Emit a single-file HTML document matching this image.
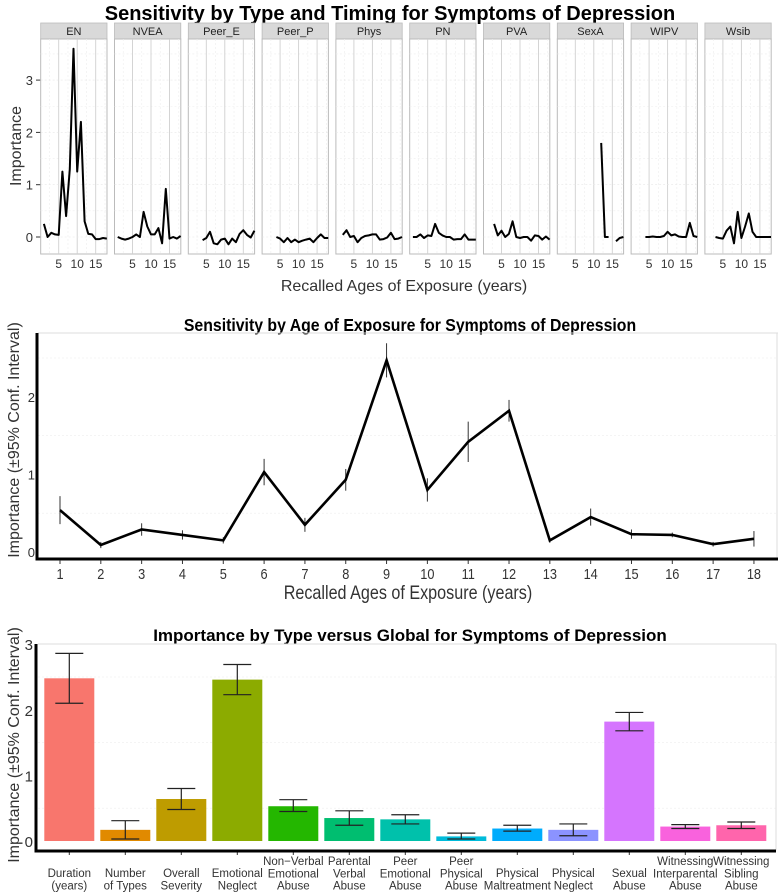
<!DOCTYPE html>
<html><head><meta charset="utf-8"><style>
html,body{margin:0;padding:0;background:#fff;}
svg{display:block;font-family:"Liberation Sans",sans-serif;}
</style></head><body>
<svg id="c" width="778" height="895" viewBox="0 0 778 895" xmlns="http://www.w3.org/2000/svg">
<text x="390" y="20" text-anchor="middle" font-size="20" font-weight="bold">Sensitivity by Type and Timing for Symptoms of Depression</text>
<text x="404" y="291" text-anchor="middle" font-size="16" fill="#333">Recalled Ages of Exposure (years)</text>
<text transform="translate(21,146) rotate(-90)" text-anchor="middle" font-size="16" fill="#333">Importance</text>
<text x="410" y="331" text-anchor="middle" font-size="18" font-weight="bold" transform="translate(410,0) scale(0.88,1) translate(-410,0)">Sensitivity by Age of Exposure for Symptoms of Depression</text>
<text x="408" y="599" text-anchor="middle" font-size="19" fill="#333" transform="translate(408,0) scale(0.85,1) translate(-408,0)">Recalled Ages of Exposure (years)</text>
<text transform="translate(19,440) rotate(-90)" text-anchor="middle" font-size="16" fill="#333">Importance (±95% Conf. Interval)</text>
<text x="410" y="641" text-anchor="middle" font-size="17" font-weight="bold">Importance by Type versus Global for Symptoms of Depression</text>
<text transform="translate(19,745) rotate(-90)" text-anchor="middle" font-size="16" fill="#333">Importance (±95% Conf. Interval)</text>
<g id="top"></g><g id="mid"></g><g id="bot"></g>
</svg>
<script>
// ---- top facets data (ages 1..18, null = missing)
const facetNames = ["EN","NVEA","Peer_E","Peer_P","Phys","PN","PVA","SexA","WIPV","Wsib"];
const ages = [1,2,3,4,5,6,7,8,9,10,11,12,13,14,15,16,17,18];
const sEN = [0.25,0,0.08,0.05,0.04,1.25,0.4,1.3,3.6,1.25,2.2,0.3,0.06,0.05,-0.04,-0.04,-0.02,-0.03];
const sNVEA = [0,-0.03,-0.05,-0.03,0,0.05,0,0.48,0.2,0.05,0.05,0.17,-0.12,0.92,-0.03,0,-0.03,0.02];
const sPeerE = [null,null,null,-0.06,-0.02,0.1,-0.12,-0.14,-0.05,-0.03,-0.14,-0.03,-0.1,0.06,0.13,0.04,-0.01,0.12];
const sPeerP = [null,null,null,0,-0.03,-0.1,-0.02,-0.1,-0.05,-0.1,-0.07,-0.05,-0.03,-0.1,-0.02,0.05,-0.02,-0.02];
const sPhys = [null,0.04,0.13,0,0.02,-0.1,-0.02,0.02,0.03,0.05,0.05,-0.05,-0.04,-0.01,0.08,-0.04,-0.03,0];
const sPN = [0,0,0.05,-0.02,0.03,0.02,0.25,0.08,0.03,0,0,-0.05,-0.04,-0.04,0.05,-0.05,-0.05,-0.05];
const sPVA = [null,null,0.25,0.03,0.12,0,0.06,0.3,0,-0.02,0,0,-0.07,0.03,0.02,-0.05,0.01,-0.05];
const sSexA = [null,null,null,null,null,null,null,null,null,null,null,1.8,0,0,null,-0.08,-0.02,0];
const sWIPV = [null,null,null,0,0,0.01,0,0,0.02,0.1,0.03,0.05,0.01,0,0,0.27,0.02,0];
const sWsib = [null,null,0,-0.02,-0.03,0.12,0.2,-0.12,0.48,-0.02,0.2,0.45,0.1,0,0,0,0,0];
const facetSeries = [sEN,sNVEA,sPeerE,sPeerP,sPhys,sPN,sPVA,sSexA,sWIPV,sWsib];
const topYTicks = [0,1,2,3];
const topXTicks = [5,10,15];
// ---- middle data
const midAges = [1,2,3,4,5,6,7,8,9,10,11,12,13,14,15,16,17,18];
const midVals = [0.54,0.09,0.29,0.22,0.15,1.03,0.35,0.93,2.47,0.80,1.42,1.82,0.15,0.45,0.23,0.22,0.10,0.17];
const midCI = [0.18,0.04,0.08,0.06,0.04,0.17,0.09,0.14,0.22,0.15,0.26,0.14,0.03,0.11,0.06,0.03,0.03,0.10];
const midYTicks = [0,1,2];
// ---- bottom data
const barLabels = [["Duration","(years)"],["Number","of Types"],["Overall","Severity"],["Emotional","Neglect"],["Non−Verbal","Emotional","Abuse"],["Parental","Verbal","Abuse"],["Peer","Emotional","Abuse"],["Peer","Physical","Abuse"],["Physical","Maltreatment"],["Physical","Neglect"],["Sexual","Abuse"],["Witnessing","Interparental","Abuse"],["Witnessing","Sibling","Abuse"]];
const barVals = [2.48,0.17,0.64,2.46,0.53,0.35,0.33,0.07,0.19,0.17,1.82,0.22,0.24];
const barLo = [2.10,0.03,0.48,2.23,0.45,0.24,0.26,0.03,0.15,0.08,1.68,0.19,0.19];
const barHi = [2.86,0.31,0.80,2.69,0.63,0.46,0.40,0.12,0.24,0.26,1.96,0.25,0.29];
const barColors = ["#F8766D","#E18A00","#BE9C00","#8CAB00","#24B700","#00BE70","#00C1AB","#00BBDA","#00ACFC","#8B93FF","#D575FE","#F962DD","#FF65AC"];
const botYTicks = [0,1,2,3];

const NS="http://www.w3.org/2000/svg";
function mk(parent,tag,attrs,txt){const e=document.createElementNS(NS,tag);for(const k in attrs)e.setAttribute(k,attrs[k]);if(txt!==undefined)e.textContent=txt;parent.appendChild(e);return e;}

// ===== TOP =====
(function(){
  const g=document.getElementById('top');
  const left0=40.7, pw=66.3, gap=7.5, stripTop=23, stripBot=39, plotBot=254;
  const y=v=>237-v*52.3;
  topYTicks.forEach(t=>{
    const tl=mk(g,'text',{x:33,y:y(t)+5,'text-anchor':'end','font-size':13,fill:'#333'},String(t));
    
    
    const tk=mk(g,'line',{x1:36,x2:40.7,y1:y(t),y2:y(t),stroke:'#333','stroke-width':1});
    
    
  });
  facetNames.forEach((nm,i)=>{
    const L=left0+i*(pw+gap);
    const x=a=>L+3.2+(a-1)*3.7;
    const pg=mk(g,'g',{});
    
    
    mk(pg,'rect',{x:L,y:stripTop,width:pw,height:stripBot-stripTop,fill:'#d9d9d9',stroke:'#bbb','stroke-width':0.8});
    const st=mk(pg,'text',{x:L+pw/2,y:35,'text-anchor':'middle','font-size':11,fill:'#222'},nm);
    
    
    mk(pg,'rect',{x:L,y:stripBot,width:pw,height:plotBot-stripBot,fill:'#fff',stroke:'#bbb','stroke-width':1});
    [2.5,7.5,12.5,17.5].forEach(a=>mk(pg,'line',{x1:x(a),x2:x(a),y1:stripBot,y2:plotBot,stroke:'#eee','stroke-width':0.6,'stroke-dasharray':'2,2'}));
    [0.5,1.5,2.5,3.5].forEach(v=>mk(pg,'line',{x1:L,x2:L+pw,y1:y(v),y2:y(v),stroke:'#eee','stroke-width':0.6,'stroke-dasharray':'2,2'}));
    topXTicks.forEach(a=>mk(pg,'line',{x1:x(a),x2:x(a),y1:stripBot,y2:plotBot,stroke:'#d0d0d0','stroke-width':0.9}));
    topYTicks.forEach(v=>mk(pg,'line',{x1:L,x2:L+pw,y1:y(v),y2:y(v),stroke:'#e8e8e8','stroke-width':0.6,'stroke-dasharray':'2,2'}));
    topXTicks.forEach(a=>{
      const tl=mk(pg,'text',{x:x(a),y:268,'text-anchor':'middle','font-size':12,fill:'#333'},String(a));
      
      
    });
    const s=facetSeries[i]; let d='', pen=false;
    ages.forEach((a,k)=>{const v=s[k]; if(v===null){pen=false;return;} d+=(pen?'L':'M')+x(a).toFixed(1)+','+y(v).toFixed(1); pen=true;});
    const p=mk(pg,'path',{d:d,fill:'none',stroke:'#000','stroke-width':2,'stroke-linejoin':'round'});
    
    
  });
})();

// ===== MIDDLE =====
(function(){
  const g=document.getElementById('mid');
  const x=a=>60+(a-1)*40.82;
  const y=v=>552-v*77.6;
  [0.5,1.5,2.5].forEach(v=>mk(g,'line',{x1:38,x2:778,y1:y(v),y2:y(v),stroke:'#eee','stroke-width':0.6,'stroke-dasharray':'2,2'}));
  mk(g,'line',{x1:38,x2:778,y1:333,y2:333,stroke:'#ddd','stroke-width':1});
  mk(g,'line',{x1:777,x2:777,y1:333,y2:559,stroke:'#ddd','stroke-width':1});
  const ax=mk(g,'path',{d:'M37,333L37,559L778,559',fill:'none',stroke:'#000','stroke-width':3});
  
  
  midYTicks.forEach(t=>{
    const tl=mk(g,'text',{x:35,y:y(t)+5,'text-anchor':'end','font-size':13,fill:'#333'},String(t));
    
    
  });
  midAges.forEach(a=>{
    mk(g,'line',{x1:x(a),x2:x(a),y1:560,y2:564,stroke:'#333','stroke-width':1});
    const tl=mk(g,'text',{x:x(a),y:579,'text-anchor':'middle','font-size':15,fill:'#333',transform:`translate(${x(a)},0) scale(0.85,1) translate(${-x(a)},0)`},String(a));
    
    
  });
  midAges.forEach((a,k)=>{
    const e=mk(g,'line',{x1:x(a),x2:x(a),y1:y(midVals[k]-midCI[k]),y2:y(midVals[k]+midCI[k]),stroke:'#333','stroke-width':1});
    
    
  });
  const d=midAges.map((a,k)=>(k?'L':'M')+x(a).toFixed(1)+','+y(midVals[k]).toFixed(1)).join('');
  const p=mk(g,'path',{d:d,fill:'none',stroke:'#000','stroke-width':2.6,'stroke-linejoin':'miter'});
  
  
})();

// ===== BOTTOM =====
(function(){
  const g=document.getElementById('bot');
  const x=i=>69.3+i*56;
  const y=v=>841-v*65.6;
  const bw=50;
  [0.5,1.5,2.5].forEach(v=>mk(g,'line',{x1:38,x2:776,y1:y(v),y2:y(v),stroke:'#eee','stroke-width':0.6,'stroke-dasharray':'2,2'}));
  mk(g,'line',{x1:38,x2:776,y1:644,y2:644,stroke:'#ddd','stroke-width':1});
  mk(g,'line',{x1:776,x2:776,y1:644,y2:850,stroke:'#ddd','stroke-width':1});
  botYTicks.forEach(t=>{
    const tl=mk(g,'text',{x:33,y:y(t)+6,'text-anchor':'end','font-size':15,fill:'#333'},String(t));
    
    
  });
  barVals.forEach((v,i)=>{
    const r=mk(g,'rect',{x:x(i)-bw/2,y:y(v),width:bw,height:y(0)-y(v),fill:barColors[i]});
    
    
    const eb=mk(g,'path',{d:`M${x(i)-14},${y(barHi[i])}H${x(i)+14}M${x(i)},${y(barHi[i])}V${y(barLo[i])}M${x(i)-14},${y(barLo[i])}H${x(i)+14}`,fill:'none',stroke:'#222','stroke-width':1.2});
    
    
    mk(g,'line',{x1:x(i),x2:x(i),y1:851,y2:855,stroke:'#333','stroke-width':1});
    const lines=barLabels[i];
    const y0= lines.length===3 ? 865 : 877;
    lines.forEach((ln,j)=>{
      const t=mk(g,'text',{x:x(i),y:y0+j*12.3,'text-anchor':'middle','font-size':11.5,fill:'#333'},ln);
      
      
    });
  });
  const ax=mk(g,'path',{d:'M36,644L36,851L776,851',fill:'none',stroke:'#000','stroke-width':3});
  
  
})();
</script>
</body></html>
